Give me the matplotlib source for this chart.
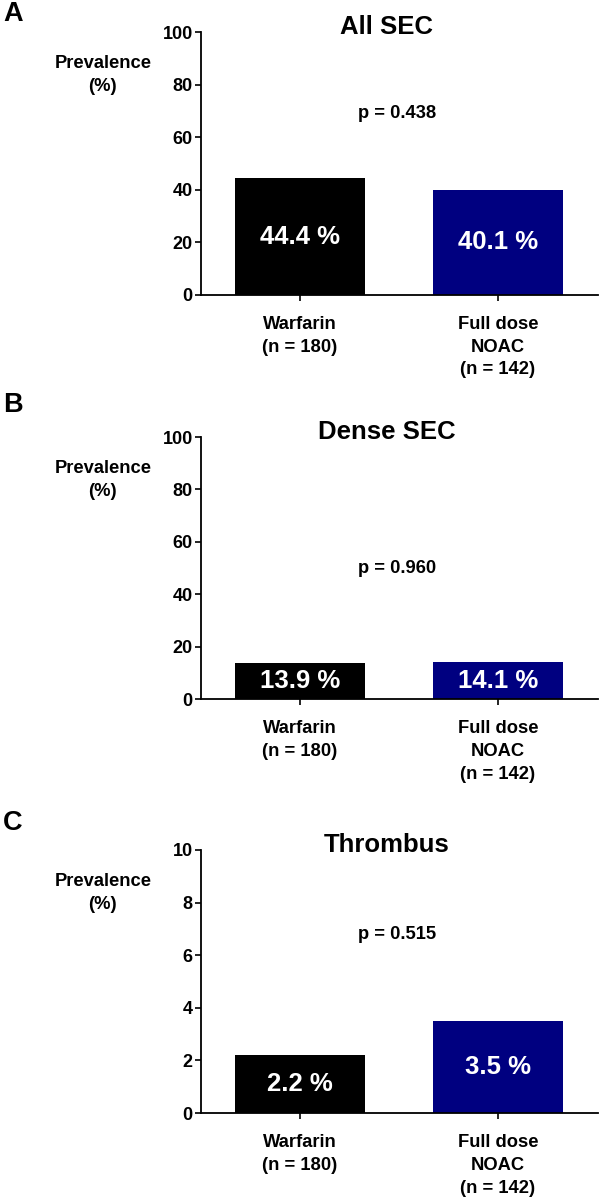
import matplotlib
matplotlib.use("Agg")
import matplotlib.pyplot as plt

plt.rcParams["font.family"] = ["Liberation Sans", "DejaVu Sans"]
plt.rcParams["font.weight"] = "bold"

# data
groups = ["Warfarin\n(n = 180)", "Full dose\nNOAC\n(n = 142)"]
panel_letters = ["A", "B", "C"]
titles = ["All SEC", "Dense SEC", "Thrombus"]
values = [
    [44.4, 40.1],
    [13.9, 14.1],
    [2.2, 3.5],
]
bar_labels = [
    ["44.4 %", "40.1 %"],
    ["13.9 %", "14.1 %"],
    ["2.2 %", "3.5 %"],
]
p_values = ["p = 0.438", "p = 0.960", "p = 0.515"]
y_max = [100, 100, 10]
y_ticks = [
    [0, 20, 40, 60, 80, 100],
    [0, 20, 40, 60, 80, 100],
    [0, 2, 4, 6, 8, 10],
]

# layout
colors = ["black", "#000080"]
p_text_y = [69, 50, 6.8]
ax_rects = [
    [0.3344, 0.7540, 0.6606, 0.2193],
    [0.3344, 0.4170, 0.6606, 0.2185],
    [0.3344, 0.0717, 0.6606, 0.2194],
]
letter_y = [0.988, 0.662, 0.3136]

fig = plt.figure(figsize=(6.01, 11.99), dpi=100)

for i in range(3):
    ax = fig.add_axes(ax_rects[i])
    x = list(range(len(groups)))
    ax.bar(x, values[i], width=0.66, color=colors)
    for xi, v, lab in zip(x, values[i], bar_labels[i]):
        ax.text(xi, v / 2, lab, color="white", fontsize=18.5, fontweight="bold",
                ha="center", va="center")

    ax.set_xlim(-0.5, 1.505)
    ax.set_ylim(0, y_max[i])
    ax.set_yticks(y_ticks[i])
    ax.set_yticklabels([str(t) for t in y_ticks[i]], fontsize=13, fontweight="bold")
    ax.set_xticks(x)
    ax.set_xticklabels(groups, fontsize=13.2, fontweight="bold", linespacing=1.45)
    ax.tick_params(axis="y", length=4, width=1.2, pad=2)
    ax.tick_params(axis="x", length=4, width=1.2, pad=11)
    for s in ["top", "right"]:
        ax.spines[s].set_visible(False)
    for s in ["left", "bottom"]:
        ax.spines[s].set_linewidth(1.3)

    ax.text(0.468, 1.019, titles[i], transform=ax.transAxes, fontsize=18.5,
            fontweight="bold", ha="center", va="center")
    ax.text(0.49, p_text_y[i], p_values[i], fontsize=13.2, fontweight="bold",
            ha="center", va="center")
    ax.text(-0.247, 0.836, "Prevalence\n(%)", transform=ax.transAxes,
            fontsize=13.2, fontweight="bold", ha="center", va="center",
            linespacing=1.45)

    fig.text(0.005, letter_y[i], panel_letters[i], fontsize=19.5,
             fontweight="bold", ha="left", va="center")

fig.savefig("out.png", dpi=100)
